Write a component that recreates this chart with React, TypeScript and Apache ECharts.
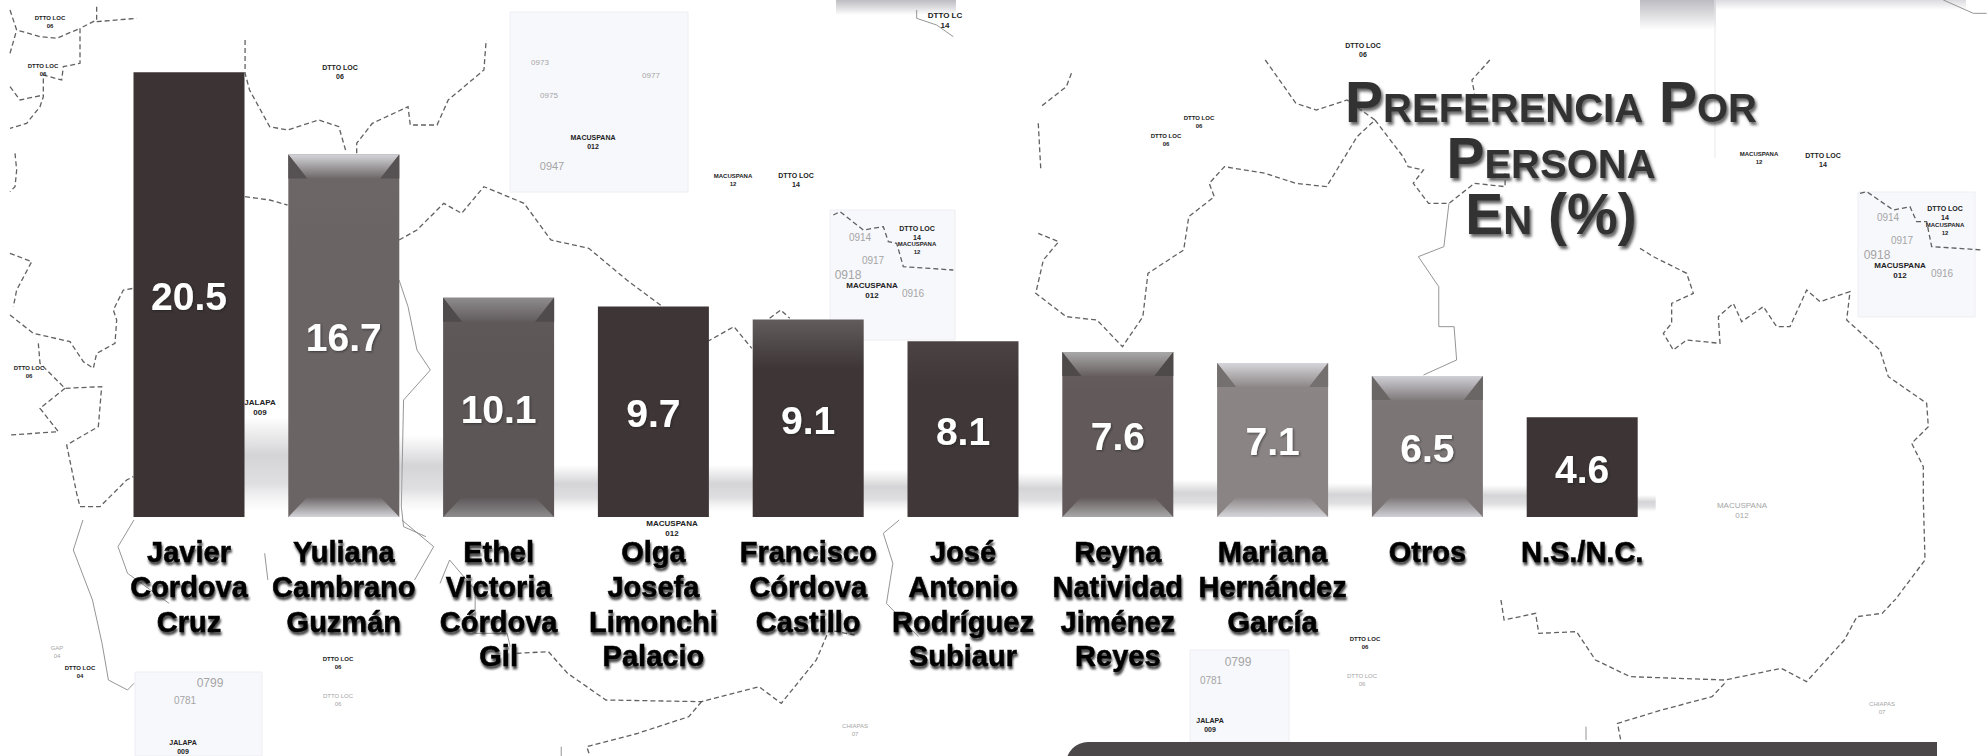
import React, { useEffect, useRef } from "react";
import * as echarts from "echarts";

const candidates = [
  "Javier\nCordova\nCruz",
  "Yuliana\nCambrano\nGuzmán",
  "Ethel\nVictoria\nCórdova\nGil",
  "Olga\nJosefa\nLimonchi\nPalacio",
  "Francisco\nCórdova\nCastillo",
  "José\nAntonio\nRodríguez\nSubiaur",
  "Reyna\nNatividad\nJiménez\nReyes",
  "Mariana\nHernández\nGarcía",
  "Otros",
  "N.S./N.C.",
];
const preference = [20.5, 16.7, 10.1, 9.7, 9.1, 8.1, 7.6, 7.1, 6.5, 4.6];
const titleLines = ["Preferencia Por", "Persona", "En (%)"];

const bodyTop = ["#3b3334", "#6d6768", "#615b5c", "#3e3536", "#625c5d", "#4a4243", "#675f5f", "#8d8788", "#807a7b", "#3c3435"];
const bodyBottom = ["#3b3334", "#6a6465", "#5c5657", "#3e3536", "#3d3536", "#3f3738", "#625a5a", "#8a8485", "#7b7576", "#3c3435"];
const bevelLight: Record<number, string> = { 1: "#d4d4d8", 2: "#8e8c8d", 6: "#a9a8a9", 7: "#d6d6da", 8: "#d0d0d6" };
const bevelDark: Record<number, string> = { 1: "#565152", 2: "#4f4a4b", 6: "#4f4a4a", 7: "#747070", 8: "#6a6666" };
const shadowTops = [417, 435, 465, 465, 470, 473, 480, 483, 485, 495];

const FONT = '"Liberation Sans", Arial, sans-serif';

// Decorative background map (pixel space of the photographed slide)
type Trace = { o: [number, number, number, number]; dash?: boolean; p: number[][] };
const z7: [number, number, number, number] = [0, 3, 0, 3];
const z4: [number, number, number, number] = [0, 1.568, 520, 3];
const z1: [number, number, number, number] = [100, 2.24, 40, 3];
const z2: [number, number, number, number] = [1000, 1.96, 60, 3];
const z3: [number, number, number, number] = [1000, 1.587, 600, 3];
const z5: [number, number, number, number] = [1640, 3, 0, 3];
const z6: [number, number, number, number] = [700, 3, 0, 3];
const traces: Trace[] = [
  { o: z7, dash: true, p: [[290, 20], [290, 60], [240, 85], [240, 190], [190, 200], [185, 240], [130, 225], [130, 290], [120, 320], [80, 370], [30, 385]] },
  { o: z7, dash: true, p: [[30, 260], [60, 300], [130, 285]] },
  { o: z7, dash: true, p: [[45, 460], [50, 510], [45, 560], [30, 575]] },
  { o: z7, dash: true, p: [[30, 760], [95, 785], [50, 870], [40, 920]] },
  { o: z7, dash: true, p: [[30, 945], [100, 1000], [210, 1025], [250, 1085], [280, 1105], [290, 1060], [345, 1030], [350, 960], [340, 930], [370, 870], [400, 865]] },
  { o: z7, dash: true, p: [[115, 1030], [120, 1090], [195, 1165], [305, 1160], [295, 1280], [200, 1335], [230, 1480], [240, 1520], [300, 1520], [350, 1470], [380, 1440], [400, 1430]] },
  { o: z7, dash: true, p: [[195, 1165], [120, 1225], [175, 1295], [30, 1305]] },
  { o: z7, dash: true, p: [[290, 65], [410, 55]] },
  { o: z7, dash: true, p: [[30, 30], [50, 90], [120, 110], [170, 115], [240, 85]] },
  { o: z7, dash: true, p: [[30, 160], [50, 90]] },
  { o: z4, p: [[130, 0], [115, 90], [145, 240], [160, 370], [170, 480], [200, 510], [210, 490]] },
  { o: z4, p: [[210, 0], [185, 80], [200, 160], [265, 250]] },
  { o: z4, p: [[415, 100], [420, 180]] },
  { o: z4, p: [[630, 0], [680, 80], [650, 180]] },
  { o: z4, p: [[690, 190], [705, 120], [745, 210], [745, 340], [795, 340], [800, 380]] },
  { o: z4, dash: true, p: [[810, 400], [860, 395], [890, 460], [950, 540], [1100, 545], [1190, 500], [1225, 550], [1280, 420], [1300, 330], [1340, 345]] },
  { o: z4, dash: true, p: [[1100, 545], [1080, 590], [1000, 640], [920, 680], [925, 708]] },
  { o: z4, p: [[880, 680], [880, 708]] },
  { o: z4, p: [[1410, 0], [1385, 40], [1400, 130], [1390, 250], [1440, 350]] },
  { o: z1, dash: true, p: [[325, 0], [325, 100], [335, 150], [380, 260], [420, 270], [490, 240], [535, 260], [550, 330]] },
  { o: z1, dash: true, p: [[575, 340], [575, 310], [610, 250], [690, 200], [695, 255], [755, 255], [780, 180], [860, 90], [865, 0]] },
  { o: z1, dash: true, p: [[325, 470], [380, 480], [420, 495]] },
  { o: z1, dash: true, p: [[670, 600], [710, 570], [770, 490], [810, 520], [860, 440], [950, 490], [1010, 600], [1095, 625], [1180, 720], [1260, 800]] },
  { o: z1, dash: true, p: [[1360, 905], [1420, 860], [1460, 925]] },
  { o: z1, dash: true, p: [[1500, 835], [1525, 810], [1545, 835]] },
  { o: z1, p: [[670, 720], [690, 800], [710, 930], [740, 990], [680, 1080], [675, 1400], [680, 1460], [730, 1490]] },
  { o: z2, dash: true, p: [[520, 0], [580, 130], [620, 150], [680, 120], [735, 180], [700, 230], [640, 380], [580, 370], [520, 340], [440, 320], [410, 370], [420, 410], [370, 470], [360, 570], [290, 640], [280, 770], [240, 860], [190, 780], [130, 770], [70, 700], [85, 600], [115, 545], [75, 520]] },
  { o: z2, dash: true, p: [[735, 180], [790, 290], [800, 320], [830, 330], [810, 370], [840, 430], [880, 430], [930, 370], [990, 380], [990, 340]] },
  { o: z2, p: [[880, 430], [870, 560], [820, 590], [860, 680], [860, 800], [890, 800], [895, 900], [830, 945]] },
  { o: z2, dash: true, p: [[960, 0], [925, 60], [930, 100]] },
  { o: z2, dash: true, p: [[140, 40], [130, 80], [80, 140]] },
  { o: z2, dash: true, p: [[75, 190], [80, 330]] },
  { o: z3, dash: true, p: [[795, 0], [800, 60], [850, 40], [855, 100], [915, 95], [945, 180], [1000, 230], [1150, 240], [1240, 205], [1280, 245], [1340, 120], [1360, 50], [1400, 40], [1420, 0]] },
  { o: z3, dash: true, p: [[1150, 250], [1130, 290], [1050, 330], [980, 370], [985, 420]] },
  { o: z3, p: [[930, 380], [930, 420]] },
  { o: z5, dash: true, p: [[0, 745], [40, 770], [140, 820], [160, 880], [95, 910], [95, 970], [70, 1000], [100, 1050], [140, 1020], [240, 1030], [235, 950], [280, 910], [305, 965], [370, 920], [410, 980], [450, 980], [500, 870], [540, 905], [630, 875], [620, 960], [720, 1050], [745, 1130], [860, 1210], [865, 1280], [815, 1330], [850, 1400], [850, 1500], [855, 1680], [765, 1800]] },
  { o: z5, dash: true, p: [[660, 580], [680, 575], [760, 630], [810, 620], [830, 665], [860, 665], [875, 740], [1030, 750]] },
  { o: z5, p: [[910, 0], [1000, 40], [1040, 40]] },
  { o: z6, p: [[650, 30], [650, 55], [710, 75], [760, 110]] },
  { o: z6, dash: true, p: [[400, 645], [420, 635], [490, 690], [550, 680], [565, 725], [590, 730], [610, 800], [760, 810]] },
];

const mapLabels: [number, number, string, boolean, number][] = [
  [260, 407, "JALAPA\n009", true, 8],
  [1742, 510, "MACUSPANA\n012", false, 8],
  [672, 528, "MACUSPANA\n012", true, 8],
  [593, 142, "MACUSPANA\n012", true, 7],
  [872, 290, "MACUSPANA\n012", true, 8],
  [1900, 270, "MACUSPANA\n012", true, 8],
  [917, 233, "DTTO LOC\n14", true, 7],
  [917, 248, "MACUSPANA\n12", true, 6],
  [1945, 213, "DTTO LOC\n14", true, 7],
  [1945, 229, "MACUSPANA\n12", true, 6],
  [733, 180, "MACUSPANA\n12", true, 6],
  [1759, 158, "MACUSPANA\n12", true, 6],
  [796, 180, "DTTO LOC\n14", true, 7],
  [1823, 160, "DTTO LOC\n14", true, 7],
  [945, 20, "DTTO LC\n14", true, 8],
  [340, 72, "DTTO LOC\n06", true, 7],
  [1363, 50, "DTTO LOC\n06", true, 7],
  [1199, 122, "DTTO LOC\n06", true, 6],
  [1166, 140, "DTTO LOC\n06", true, 6],
  [29, 372, "DTTO LOC\n06", true, 6],
  [50, 22, "DTTO LOC\n06", true, 6],
  [43, 70, "DTTO LOC\n06", true, 6],
  [80, 672, "DTTO LOC\n04", true, 6],
  [57, 652, "GAP\n04", false, 6],
  [338, 663, "DTTO LOC\n06", true, 6],
  [338, 700, "DTTO LOC\n06", false, 6],
  [1365, 643, "DTTO LOC\n06", true, 6],
  [1362, 680, "DTTO LOC\n06", false, 6],
  [183, 747, "JALAPA\n009", true, 7],
  [1210, 725, "JALAPA\n009", true, 7],
  [855, 730, "CHIAPAS\n07", false, 6],
  [1882, 708, "CHIAPAS\n07", false, 6],
  [210, 683, "0799", false, 12],
  [1238, 662, "0799", false, 12],
  [185, 700, "0781", false, 10],
  [1211, 680, "0781", false, 10],
  [552, 166, "0947", false, 11],
  [848, 275, "0918", false, 12],
  [1877, 255, "0918", false, 12],
  [873, 260, "0917", false, 10],
  [1902, 240, "0917", false, 10],
  [913, 293, "0916", false, 10],
  [1942, 273, "0916", false, 10],
  [860, 237, "0914", false, 10],
  [1888, 217, "0914", false, 10],
  [651, 75, "0977", false, 8],
  [549, 95, "0975", false, 8],
  [540, 62, "0973", false, 8],
];

const panels: [number, number, number, number][] = [
  [510, 12, 178, 180],
  [830, 210, 125, 130],
  [1858, 192, 117, 125],
  [135, 672, 127, 84],
  [1190, 650, 99, 92],
];

function App() {
  const ref = useRef<HTMLDivElement>(null);

  useEffect(() => {
    const chart = echarts.init(ref.current!, null, { renderer: "svg" });
    const gridLeft = 111.6;
    const band = 154.8;
    const barW = 111;

    const graphics: any[] = [];
    panels.forEach(([x, y, w, h]) => {
      graphics.push({ type: "rect", z: -10, shape: { x, y, width: w, height: h }, style: { fill: "#f7f8fc", stroke: "#eeeef3", lineWidth: 1 } });
    });
    const fade = (c: string) => ({ type: "linear", x: 0, y: 0, x2: 0, y2: 1, colorStops: [{ offset: 0, color: c }, { offset: 1, color: "#ffffff" }] });
    graphics.push(
      { type: "rect", z: -9, shape: { x: 836, y: 0, width: 120, height: 15 }, style: { fill: fade("#bcbcc2") } },
      { type: "rect", z: -9, shape: { x: 1640, y: 0, width: 76, height: 30 }, style: { fill: fade("#bcbcc2") } },
      { type: "rect", z: -9, shape: { x: 1716, y: 0, width: 250, height: 10 }, style: { fill: fade("#dcdce0") } },
      { type: "line", z: -9, shape: { x1: 1715, y1: 0, x2: 1715, y2: 158 }, style: { stroke: "#e8e8ec", lineWidth: 1 } },
    );
    traces.forEach((t) => {
      const [ox, sx, oy, sy] = t.o;
      graphics.push({
        type: "polyline",
        z: -8,
        shape: { points: t.p.map(([x, y]) => [ox + x / sx, oy + y / sy]) },
        style: { fill: "none", stroke: t.dash ? "#3a3a3a" : "#8a8a8a", lineWidth: t.dash ? 1.3 : 1, lineDash: t.dash ? [5, 3] : undefined, opacity: t.dash ? 0.8 : 0.9 },
      });
    });
    mapLabels.forEach(([x, y, text, bold, size]) => {
      graphics.push({
        type: "text",
        z: -7,
        x,
        y,
        style: { text, fill: bold ? "#222222" : "#a5a5a5", textAlign: "center", textVerticalAlign: "middle", font: `${bold ? "bold " : ""}${size}px ${FONT}`, lineHeight: size + 2 },
      });
    });
    // soft floor reflection between the bars
    shadowTops.forEach((top, i) => {
      const x = gridLeft + band * (i + 0.5) + barW / 2 - 2;
      const w = i === shadowTops.length - 1 ? 20 : band - barW + 4;
      graphics.push({
        type: "rect",
        z: -6,
        shape: { x, y: top, width: w, height: 512 - top },
        style: { fill: { type: "linear", x: 0, y: 0, x2: 0, y2: 1, colorStops: [{ offset: 0, color: "rgba(160,160,165,0)" }, { offset: 0.4, color: "rgba(160,160,165,0.45)" }, { offset: 0.7, color: "rgba(175,175,180,0.4)" }, { offset: 1, color: "rgba(210,210,215,0)" }] } },
      });
    });
    // dark box cut off by the bottom edge
    graphics.push({ type: "rect", z: -5, shape: { x: 1066, y: 742, width: 871, height: 40, r: [22, 0, 0, 0] }, style: { fill: "#4b4647" } });
    titleLines.forEach((text, i) => {
      graphics.push({
        type: "text",
        z: 20,
        x: 1551,
        y: 102 + i * 56,
        style: {
          text,
          fill: "#333333",
          font: `small-caps bold 57px ${FONT}`,
          textAlign: "center",
          textVerticalAlign: "middle",
          textShadowColor: "rgba(60,60,60,0.8)",
          textShadowBlur: 3,
          textShadowOffsetX: 2,
          textShadowOffsetY: 3,
        },
      });
    });

    const option: any = {
      animation: false,
      backgroundColor: "#ffffff",
      grid: { left: gridLeft, width: band * 10, top: 39.6, bottom: 239, containLabel: false },
      xAxis: {
        type: "category",
        data: candidates,
        axisLine: { show: false },
        axisTick: { show: false },
        axisLabel: {
          interval: 0,
          margin: 18,
          color: "#000000",
          fontFamily: FONT,
          fontWeight: "bold",
          fontSize: 29,
          lineHeight: 34.7,
          verticalAlign: "top",
          textBorderColor: "#000000",
          textBorderWidth: 0.5,
          textShadowColor: "rgba(30,30,30,0.85)",
          textShadowBlur: 2,
          textShadowOffsetX: 1,
          textShadowOffsetY: 3,
        },
      },
      yAxis: { type: "value", min: 0, max: 22, show: false, splitLine: { show: false } },
      graphic: { elements: graphics },
      series: [
        {
          type: "bar",
          barWidth: barW,
          z: 2,
          data: preference.map((v, i) => ({
            value: v,
            itemStyle: {
              color: {
                type: "linear",
                x: 0,
                y: 0,
                x2: 0,
                y2: 1,
                colorStops: [
                  { offset: 0, color: bodyTop[i] },
                  { offset: 0.25, color: bodyBottom[i] },
                  { offset: 1, color: bodyBottom[i] },
                ],
              },
            },
          })),
          label: {
            show: true,
            position: "inside",
            offset: [0, 2],
            formatter: (p: any) => p.value.toFixed(1),
            color: "#ffffff",
            fontFamily: FONT,
            fontWeight: "bold",
            fontSize: 39,
            textShadowColor: "rgba(30,30,30,0.6)",
            textShadowBlur: 2,
            textShadowOffsetX: 1,
            textShadowOffsetY: 1,
          },
        },
        {
          type: "custom",
          z: 3,
          silent: true,
          data: preference.map((v, i) => [i, v]),
          renderItem: (params: any, api: any) => {
            const i = api.value(0);
            const light = bevelLight[i];
            if (!light) return { type: "group", children: [] };
            const dark = bevelDark[i];
            const [cx, top] = api.coord([i, api.value(1)]);
            const [, bottom] = api.coord([i, 0]);
            const x0 = cx - barW / 2;
            const x1 = cx + barW / 2;
            const ix = 19;
            const iy = 24;
            const poly = (points: number[][], fill: any) => ({ type: "polygon", shape: { points }, style: { fill } });
            const grad = (a: string, b: string) => ({ type: "linear", x: 0, y: 0, x2: 0, y2: 1, colorStops: [{ offset: 0, color: a }, { offset: 1, color: b }] });
            return {
              type: "group",
              children: [
                poly([[x0, top], [x1, top], [x1 - ix, top + iy], [x0 + ix, top + iy]], grad(light, bodyTop[i])),
                poly([[x0, top], [x0 + ix, top + iy], [x0, top + iy]], dark),
                poly([[x1, top], [x1 - ix, top + iy], [x1, top + iy]], dark),
                poly([[x0, bottom], [x1, bottom], [x1 - ix, bottom - iy + 4], [x0 + ix, bottom - iy + 4]], grad(bodyBottom[i], light)),
              ],
            };
          },
        },
      ],
    };
    chart.setOption(option);
    return () => chart.dispose();
  }, []);

  return <div ref={ref} style={{ position: "absolute", left: 0, top: 0, width: 1988, height: 756 }} />;
}

export default App;
